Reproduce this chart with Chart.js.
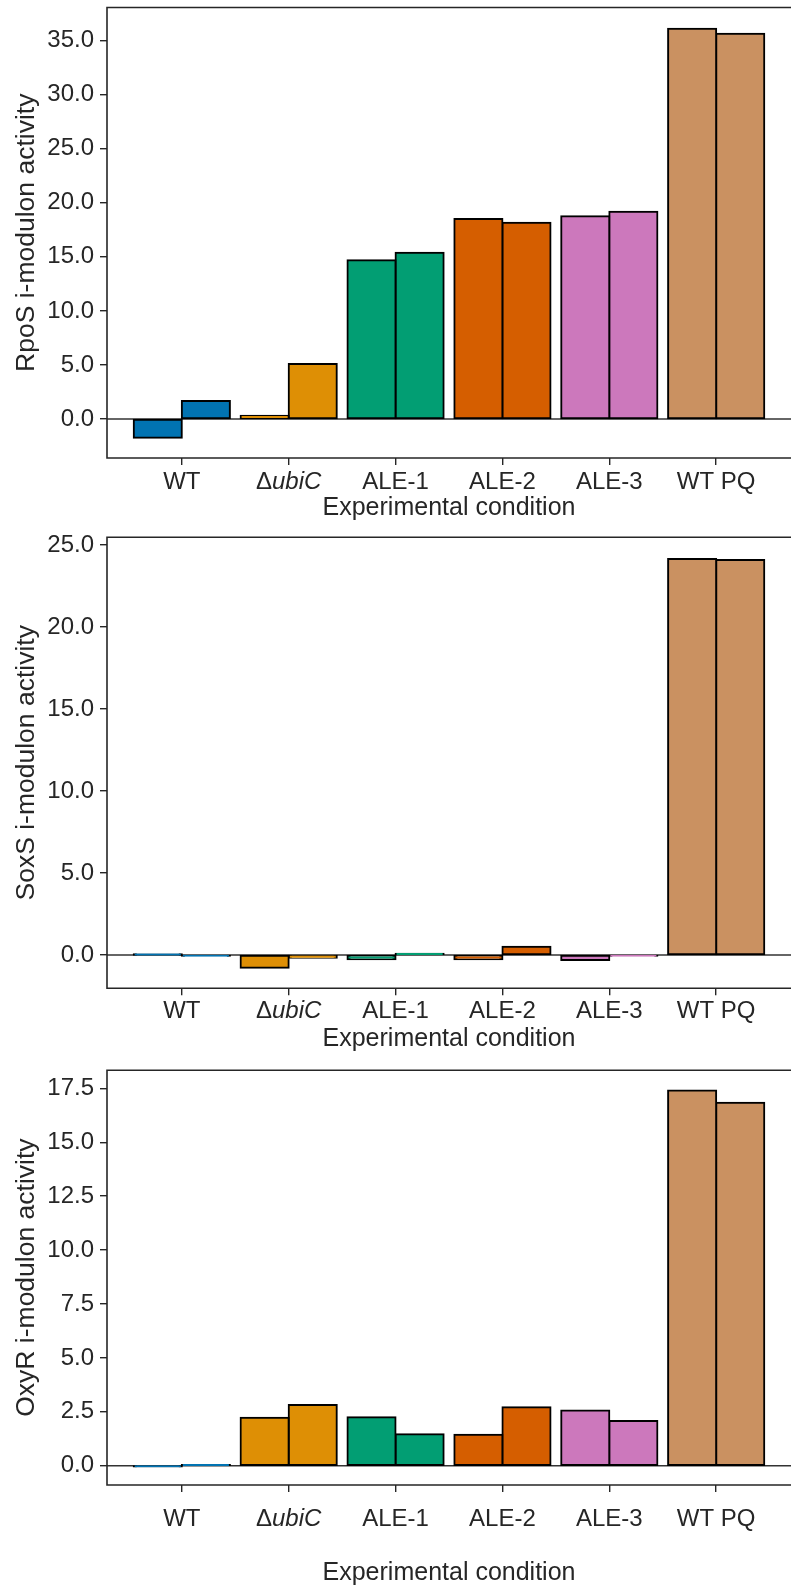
<!DOCTYPE html>
<html>
<head>
<meta charset="utf-8">
<script src="https://cdn.jsdelivr.net/npm/chart.js@4.4.0/dist/chart.umd.js"></script>
<style>
  html, body { margin: 0; padding: 0; background: #fff; }
  body { width: 791px; height: 1587px; position: relative; overflow: hidden; }
  canvas { position: absolute; left: 0; }
</style>
</head>
<body>
<canvas id="rpos" width="791" height="528" style="top:0px"></canvas>
<canvas id="soxs" width="791" height="532" style="top:528px"></canvas>
<canvas id="oxyr" width="791" height="527" style="top:1060px"></canvas>
<script>
// Data
const categories = ['WT', 'ΔubiC', 'ALE-1', 'ALE-2', 'ALE-3', 'WT PQ']
const groupColors = ['#0173B2', '#DE8F05', '#029E73', '#D55E00', '#CC78BC', '#CA9161']

const rposRep1 = [-1.73, 0.31, 14.68, 18.50, 18.75, 36.11]
const rposRep2 = [1.67, 5.09, 15.39, 18.16, 19.18, 35.64]
const rposTicks = [0, 5, 10, 15, 20, 25, 30, 35]

const soxsRep1 = [0.02, -0.77, -0.26, -0.26, -0.30, 24.15]
const soxsRep2 = [-0.05, -0.16, 0.08, 0.51, -0.04, 24.09]
const soxsTicks = [0, 5, 10, 15, 20, 25]

const oxyrRep1 = [-0.03, 2.22, 2.25, 1.43, 2.56, 17.40]
const oxyrRep2 = [0.03, 2.81, 1.46, 2.71, 2.07, 16.83]
const oxyrTicks = [0, 2.5, 5, 7.5, 10, 12.5, 15, 17.5]

const FONT = "'Liberation Sans', Arial, Helvetica, sans-serif"
const INK = '#262626'

// spines, zero line, x labels and axis titles
const axesPlugin = {
  id: 'axesPlugin',
  beforeDatasetsDraw(chart) {
    const { ctx, chartArea: a, scales: { y } } = chart
    const y0 = y.getPixelForValue(0)
    ctx.save()
    ctx.strokeStyle = '#333'
    ctx.lineWidth = 1.5
    ctx.beginPath()
    ctx.moveTo(a.left, y0)
    ctx.lineTo(a.right, y0)
    ctx.stroke()
    ctx.restore()
  },
  afterDraw(chart, args, opts) {
    const { ctx, chartArea: a, scales: { x } } = chart
    ctx.save()
    ctx.strokeStyle = INK
    ctx.lineWidth = 1.6
    ctx.beginPath()
    ctx.moveTo(a.right, a.top)
    ctx.lineTo(a.left, a.top)
    ctx.lineTo(a.left, a.bottom)
    ctx.lineTo(a.right, a.bottom)
    ctx.stroke()

    // category labels (ΔubiC needs italic gene name)
    ctx.fillStyle = INK
    ctx.textBaseline = 'alphabetic'
    ctx.textAlign = 'left'
    const base = a.bottom + opts.tickGap
    categories.forEach((label, i) => {
      const cx = x.getPixelForValue(i)
      if (label.startsWith('Δ')) {
        ctx.font = `24px ${FONT}`
        const w1 = ctx.measureText('Δ').width
        ctx.font = `italic 24px ${FONT}`
        const w2 = ctx.measureText(label.slice(1)).width
        const start = cx - (w1 + w2) / 2
        ctx.font = `24px ${FONT}`
        ctx.fillText('Δ', start, base)
        ctx.font = `italic 24px ${FONT}`
        ctx.fillText(label.slice(1), start + w1, base)
      } else {
        ctx.font = `24px ${FONT}`
        const w = ctx.measureText(label).width
        ctx.fillText(label, cx - w / 2, base)
      }
    })

    // x title
    ctx.font = `25px ${FONT}`
    ctx.textAlign = 'center'
    ctx.fillText('Experimental condition', (a.left + a.right) / 2, a.bottom + opts.titleGap)

    // y title
    ctx.font = `26.5px ${FONT}`
    ctx.translate(34, (a.top + a.bottom) / 2)
    ctx.rotate(-Math.PI / 2)
    ctx.fillText(opts.yTitle, 0, 0)
    ctx.restore()
  }
}

function createPanel(canvasId, rep1, rep2, yTicks, yMin, yMax, yTitle, box) {
  const canvas = document.getElementById(canvasId)
  const toPoints = values => values.map((v, i) => ({ x: i, y: v }))

  return new Chart(canvas.getContext('2d'), {
    type: 'bar',
    data: {
      datasets: [rep1, rep2].map(values => ({
        data: toPoints(values),
        backgroundColor: groupColors,
        borderColor: '#000',
        borderWidth: 2,
        borderSkipped: false,
        inflateAmount: 1,
        categoryPercentage: 0.9,
        barPercentage: 1.0
      }))
    },
    options: {
      responsive: false,
      animation: false,
      layout: { padding: { top: box.top, left: 0, right: 0, bottom: 0 } },
      plugins: {
        legend: { display: false },
        tooltip: { enabled: false },
        axesPlugin: { yTitle: yTitle, tickGap: box.tickGap, titleGap: box.titleGap }
      },
      scales: {
        x: {
          type: 'linear',
          min: -0.7,
          max: 5.7,
          offset: false,
          grid: { offset: false, drawOnChartArea: false, drawTicks: true, tickLength: 7, color: INK, lineWidth: 1.4 },
          border: { display: false },
          ticks: { display: false },
          afterBuildTicks: scale => { scale.ticks = categories.map((c, i) => ({ value: i })) },
          afterFit: scale => {
            scale.height = canvas.height - box.bottom
            scale.paddingLeft = 0
            scale.paddingRight = 0
          }
        },
        y: {
          min: yMin,
          max: yMax,
          grid: { drawOnChartArea: false, drawTicks: true, tickLength: 7, color: INK, lineWidth: 1.4 },
          border: { display: false },
          ticks: {
            color: INK,
            padding: 6,
            font: { family: FONT, size: 24 },
            callback: v => v.toFixed(1)
          },
          afterBuildTicks: scale => { scale.ticks = yTicks.map(v => ({ value: v })) },
          afterFit: scale => {
            scale.width = 107
            scale.paddingTop = 0
            scale.paddingBottom = 0
          }
        }
      }
    },
    plugins: [axesPlugin]
  })
}

createPanel('rpos', rposRep1, rposRep2, rposTicks, -3.61, 38.07, 'RpoS i-modulon activity',
  { top: 7.5, bottom: 458, tickGap: 31, titleGap: 57 })
createPanel('soxs', soxsRep1, soxsRep2, soxsTicks, -2.03, 25.47, 'SoxS i-modulon activity',
  { top: 9.3, bottom: 460.3, tickGap: 30, titleGap: 58 })
createPanel('oxyr', oxyrRep1, oxyrRep2, oxyrTicks, -0.895, 18.34, 'OxyR i-modulon activity',
  { top: 10.2, bottom: 425, tickGap: 41, titleGap: 95 })
</script>
</body>
</html>
